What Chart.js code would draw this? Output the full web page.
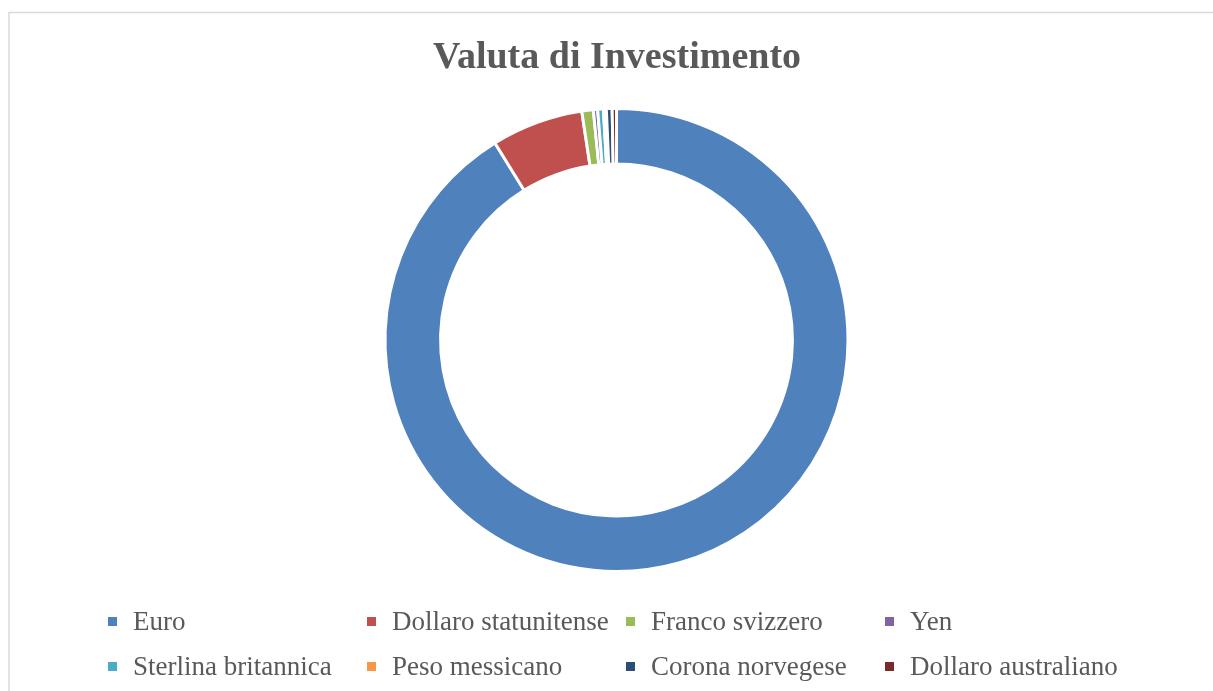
<!DOCTYPE html>
<html>
<head>
<meta charset="utf-8">
<script src="https://cdn.jsdelivr.net/npm/chart.js@4/dist/chart.umd.min.js"></script>
<style>
  html, body { margin: 0; padding: 0; background: #fff; }
  #wrap { width: 1213px; height: 691px; position: relative; }
</style>
</head>
<body>
<div id="wrap"><canvas id="myChart" width="1213" height="691"></canvas></div>
<script>
const chartTitle = 'Valuta di Investimento';
const currencyLabels = ['Euro', 'Dollaro statunitense', 'Franco svizzero', 'Yen',
  'Sterlina britannica', 'Peso messicano', 'Corona norvegese', 'Dollaro australiano'];
const shareValues = [91.2, 6.4, 0.8, 0.3, 0.4, 0.2, 0.4, 0.3];
const sliceColors = ['#4f81bd', '#c0504d', '#9bbb59', '#8064a2',
  '#4bacc6', '#f79646', '#2c4d75', '#772c2a'];

const serif = "'Liberation Serif', 'Times New Roman', serif";

// title, frame and the 4-column legend drawn on the canvas
const decor = {
  id: 'decor',
  beforeDraw(chart) {
    const c = chart.ctx;
    c.save();
    c.strokeStyle = '#d9d9d9';
    c.lineWidth = 1.5;
    c.beginPath();
    c.moveTo(9, 700);
    c.lineTo(9, 12.5);
    c.lineTo(1220, 12.5);
    c.stroke();
    c.restore();
  },
  afterDraw(chart) {
    const c = chart.ctx;
    c.save();
    c.fillStyle = '#595959';
    c.font = 'bold 38px ' + serif;
    c.textAlign = 'center';
    c.textBaseline = 'alphabetic';
    c.fillText(chartTitle, 617, 68);

    const labels = chart.data.labels;
    const colors = chart.data.datasets[0].backgroundColor;
    c.font = '27px ' + serif;
    c.textAlign = 'left';
    labels.forEach((lab, i) => {
      const col = i % 4, row = Math.floor(i / 4);
      const x = 108 + col * 259;
      const base = 630 + row * 45;
      c.fillStyle = colors[i];
      c.fillRect(x, base - 13, 9, 9);
      c.fillStyle = '#595959';
      c.fillText(lab, x + 25, base);
    });
    c.restore();
  }
};

new Chart(document.getElementById('myChart'), {
  type: 'doughnut',
  data: {
    labels: currencyLabels,
    datasets: [{
      data: shareValues,
      backgroundColor: sliceColors,
      borderColor: '#ffffff',
      borderWidth: 3
    }]
  },
  options: {
    responsive: false,
    animation: false,
    cutout: '76%',
    layout: { padding: { top: 107, bottom: 118, left: 20, right: 0 } },
    plugins: {
      legend: { display: false },
      title: { display: false },
      tooltip: { enabled: false }
    }
  },
  plugins: [decor]
});
</script>
</body>
</html>
